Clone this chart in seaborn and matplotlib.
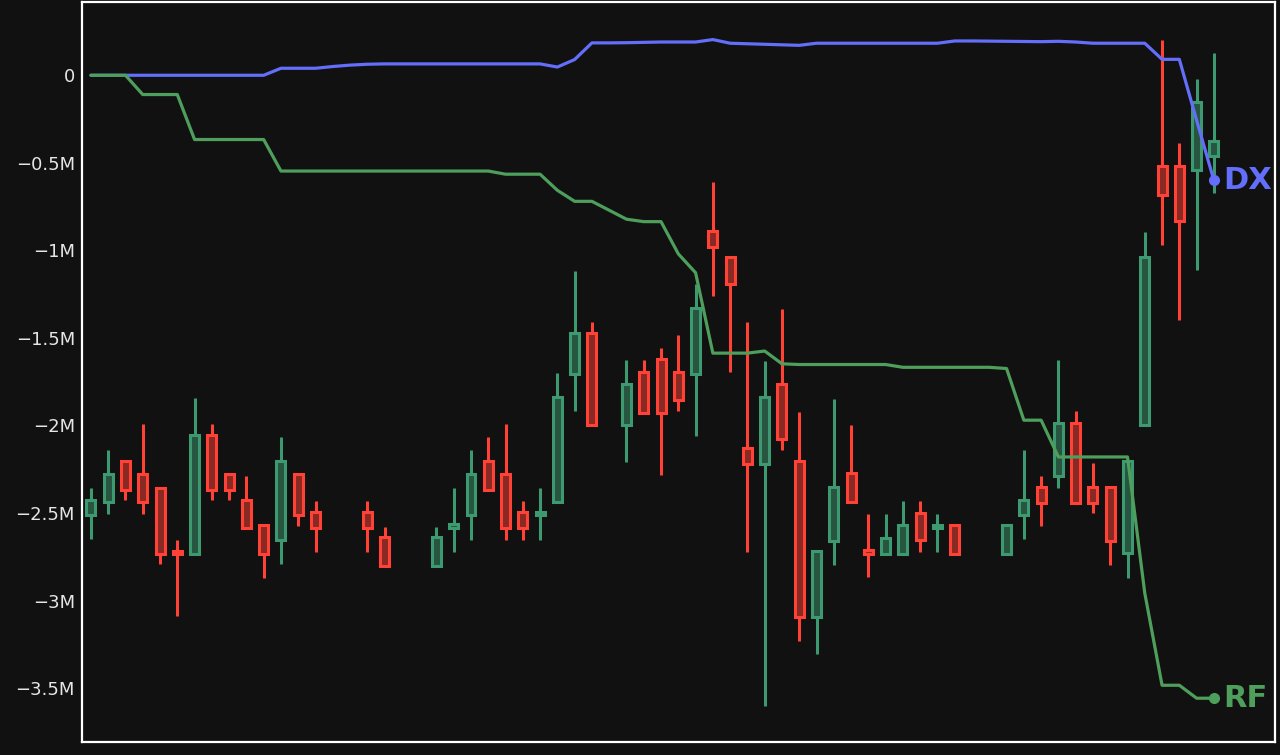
import numpy as np
import pandas as pd
import matplotlib
matplotlib.use("Agg")
import matplotlib.pyplot as plt
from matplotlib.ticker import FuncFormatter
import seaborn as sns

# values in millions, one slot per period (NaN = no candle)
NAN = np.nan
candle_open = [-2.513, -2.437, -2.204, -2.279, -2.355, -2.718, -2.732, -2.056, -2.279, -2.423,
               -2.570, -2.656, -2.279, -2.497, NAN, NAN, -2.497, -2.640, NAN, NAN,
               -2.804, -2.585, -2.513, -2.204, -2.279, -2.497, -2.513, -2.439, -1.708, -1.472,
               NAN, -1.999, -1.694, -1.618, -1.694, -1.708, -0.887, -1.036, -2.131, -2.219,
               -1.764, -2.203, -3.096, -2.662, -2.274, -2.713, -2.733, -2.733, -2.499, -2.587,
               -2.570, NAN, NAN, -2.733, -2.513, -2.351, -2.290, -1.986, -2.351, -2.351,
               -2.728, -1.999, -0.520, -0.520, -0.539, -0.463]
candle_high = [-2.360, -2.142, -2.204, -1.993, -2.355, -2.652, -1.845, -1.993, -2.279, -2.290,
               -2.570, -2.066, -2.279, -2.433, NAN, NAN, -2.431, -2.580, NAN, NAN,
               -2.580, -2.360, -2.138, -2.066, -1.993, -2.433, -2.360, -1.702, -1.118, -1.409,
               NAN, -1.628, -1.628, -1.555, -1.485, -1.190, -0.608, -1.036, -1.411, -1.632,
               -1.336, -1.923, -2.717, -1.850, -1.995, -2.505, -2.505, -2.433, -2.433, -2.505,
               -2.570, NAN, NAN, -2.570, -2.142, -2.288, -1.628, -1.919, -2.214, -2.351,
               -2.203, -0.898, 0.200, -0.387, -0.023, 0.127]
candle_low = [-2.646, -2.503, -2.427, -2.503, -2.793, -3.090, -2.732, -2.427, -2.427, -2.589,
              -2.869, -2.793, -2.576, -2.722, NAN, NAN, -2.722, -2.804, NAN, NAN,
              -2.804, -2.722, -2.652, -2.366, -2.652, -2.652, -2.652, -2.439, -1.917, -1.999,
              NAN, -2.208, -1.929, -2.284, -1.917, -2.062, -1.260, -1.697, -2.723, -3.600,
              -2.138, -3.232, -3.308, -2.795, -2.438, -2.866, -2.733, -2.733, -2.723, -2.723,
              -2.733, NAN, NAN, -2.733, -2.646, -2.576, -2.355, -2.443, -2.500, -2.798,
              -2.869, -1.999, -0.971, -1.399, -1.110, -0.672]
candle_close = [-2.423, -2.279, -2.366, -2.437, -2.732, -2.732, -2.056, -2.366, -2.366, -2.585,
                -2.732, -2.204, -2.513, -2.585, NAN, NAN, -2.585, -2.804, NAN, NAN,
                -2.640, -2.564, -2.279, -2.366, -2.585, -2.585, -2.497, -1.837, -1.472, -1.999,
                NAN, -1.765, -1.929, -1.929, -1.852, -1.327, -0.979, -1.194, -2.219, -1.836,
                -2.077, -3.096, -2.717, -2.350, -2.438, -2.733, -2.641, -2.570, -2.656, -2.570,
                -2.733, NAN, NAN, -2.570, -2.423, -2.443, -1.986, -2.443, -2.443, -2.660,
                -2.203, -1.039, -0.685, -0.832, -0.152, -0.375]

dx_line = [0, 0, 0, 0, 0, 0, 0, 0, 0, 0,
           0, 0.040, 0.040, 0.040, 0.050, 0.058, 0.063, 0.065, 0.065, 0.065,
           0.065, 0.065, 0.065, 0.065, 0.065, 0.065, 0.065, 0.047, 0.090, 0.185,
           0.185, 0.186, 0.188, 0.190, 0.190, 0.190, 0.204, 0.183, 0.180, 0.177,
           0.174, 0.171, 0.183, 0.183, 0.183, 0.183, 0.183, 0.183, 0.183, 0.183,
           0.196, 0.196, 0.195, 0.194, 0.193, 0.192, 0.194, 0.190, 0.183, 0.183,
           0.183, 0.183, 0.091, 0.091, -0.257, -0.600]
rf_line = [0, 0, 0, -0.110, -0.110, -0.110, -0.367, -0.367, -0.367, -0.367,
           -0.367, -0.547, -0.547, -0.547, -0.547, -0.547, -0.547, -0.547, -0.547, -0.547,
           -0.547, -0.547, -0.547, -0.547, -0.565, -0.565, -0.565, -0.657, -0.720, -0.720,
           -0.771, -0.822, -0.836, -0.836, -1.020, -1.128, -1.587, -1.587, -1.587, -1.575,
           -1.648, -1.652, -1.652, -1.652, -1.652, -1.652, -1.652, -1.668, -1.668, -1.668,
           -1.668, -1.668, -1.668, -1.675, -1.970, -1.970, -2.180, -2.180, -2.180, -2.180,
           -2.180, -2.958, -3.484, -3.484, -3.558, -3.558]
line_names = ["DX", "RF"]
y_ticks = [0, -0.5, -1, -1.5, -2, -2.5, -3, -3.5]

BG = "#111111"
UP, DOWN = "#3D9970", "#FF4136"
UP_FILL, DOWN_FILL = "#275540", "#882923"
DX_COLOR, RF_COLOR = "#636EFA", "#4E9F5B"

sns.set_theme(style="dark", rc={
    "figure.facecolor": BG, "axes.facecolor": BG,
    "axes.edgecolor": "white", "axes.linewidth": 1.6,
    "ytick.color": "#e6e6e6", "xtick.color": "white",
})
plt.rcParams["font.family"] = ["DejaVu Sans"]

df = pd.DataFrame({"o": candle_open, "h": candle_high, "l": candle_low, "c": candle_close})
df["x"] = np.arange(len(df))
df = df.dropna()
up = df["c"] >= df["o"]

fig = plt.figure(figsize=(12.8, 7.55), dpi=100)
ax = fig.add_axes([0.064, 0.017, 0.932, 0.98])

# candles: wicks then bodies
for mask, col, fill in [(up, UP, UP_FILL), (~up, DOWN, DOWN_FILL)]:
    d = df[mask]
    ax.vlines(d["x"], d["l"], d["h"], color=col, linewidth=2.2, zorder=2)
    body_lo = np.minimum(d["o"], d["c"])
    body_h = np.maximum((d["o"] - d["c"]).abs(), 0.012)
    ax.bar(d["x"], body_h, bottom=body_lo, width=0.52, color=fill,
           edgecolor=col, linewidth=2.2, zorder=3)

lines = pd.DataFrame({"x": np.arange(len(dx_line)), "DX": dx_line, "RF": rf_line})
for name, col in zip(line_names, [DX_COLOR, RF_COLOR]):
    sns.lineplot(data=lines, x="x", y=name, color=col, linewidth=2.3, ax=ax, zorder=4)
    last = lines.iloc[-1]
    ax.plot(last["x"], last[name], "o", color=col, markersize=7, zorder=5)
    ax.annotate(name, (last["x"], last[name]), xytext=(7, 0), textcoords="offset points",
                ha="left", va="center", fontsize=22, fontweight="bold", color=col)

ax.set_xlim(-0.52, 68.53)
ax.set_ylim(-3.809, 0.417)
ax.set_yticks(y_ticks)
ax.yaxis.set_major_formatter(FuncFormatter(
    lambda v, p: "0" if v == 0 else f"{v:g}M".replace("-", "\u2212")))
ax.tick_params(axis="y", length=0, pad=5, labelsize=13)
ax.set_xticks([-0.52, 68.53])
ax.set_xticklabels([])
ax.tick_params(axis="x", length=9, width=1.5, pad=0)
ax.set_xlabel("")
ax.set_ylabel("")
ax.grid(False)
for s in ax.spines.values():
    s.set_visible(True)

fig.savefig("out.png", dpi=100, facecolor=BG)
